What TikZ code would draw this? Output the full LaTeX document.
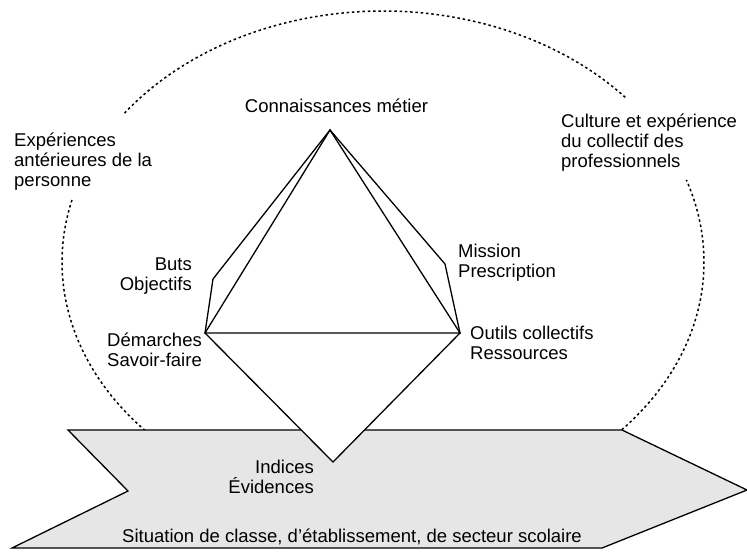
\documentclass[tikz,border=0pt]{standalone}
\usepackage{fontspec}
\setmainfont{Liberation Sans}
\definecolor{bandgray}{RGB}{230,230,230}
\tikzset{
  lbl/.style={inner sep=0pt, font=\fontsize{18.5}{20}\selectfont},
  contour/.style={draw=black, line width=1.3pt, line join=miter},
  dotline/.style={draw=black, line width=1.5pt, dash pattern=on 2.5pt off 2.8pt},
}
\begin{document}
\begin{tikzpicture}[x=1pt,y=-1pt]
\useasboundingbox (0,0) rectangle (747,552);
% dotted ellipse (three arcs, broken at the side texts)
\draw[dotline] plot[domain=41:144.1, samples=120, smooth] ({383+321*cos(\x)},{262-251*sin(\x)});
\draw[dotline] plot[domain=165.7:223, samples=60, smooth] ({383+321*cos(\x)},{262-251*sin(\x)});
\draw[dotline] plot[domain=-43:19.1, samples=60, smooth] ({383+321*cos(\x)},{262-251*sin(\x)});
% band
\coordinate (b1) at (68,430);
\coordinate (b2) at (622,430);
\coordinate (b3) at (747,490);
\coordinate (b4) at (602,548);
\coordinate (b5) at (12,548);
\coordinate (b6) at (128,491);
\filldraw[contour, fill=bandgray] (b1) -- (b2) -- (b3) -- (b4) -- (b5) -- (b6) -- cycle;
% diamond
\coordinate (T) at (330,130);
\coordinate (D) at (205,333);
\coordinate (O) at (460,333);
\coordinate (B) at (333,462);
\coordinate (Bk) at (213,279);
\coordinate (Mk) at (445,264);
\filldraw[contour, fill=white] (T) -- (Mk) -- (O) -- (B) -- (D) -- (Bk) -- cycle;
\draw[contour] (T) -- (D) -- (O) -- cycle;
% labels (base anchor = baseline of the last line)
\node[lbl, anchor=base] (conn) at (336.5,112) {Connaissances métier};
\node[lbl, align=left, anchor=base west] (exp) at (14,186) {Expériences\\antérieures de la\\personne};
\node[lbl, align=left, anchor=base west] (cult) at (561,167) {Culture et expérience\\du collectif des\\professionnels};
\node[lbl, align=right, anchor=base east] (buts) at (192,290) {Buts\\Objectifs};
\node[lbl, align=left, anchor=base west] (miss) at (458,277) {Mission\\Prescription};
\node[lbl, align=right, anchor=base east] (dem) at (202,366) {Démarches\\Savoir-faire};
\node[lbl, align=left, anchor=base west] (outl) at (470,359) {Outils collectifs\\Ressources};
\node[lbl, align=right, anchor=base east] (ind) at (314,493) {Indices\\Évidences};
\node[lbl, anchor=base west] (sit) at (122,542) {Situation de classe, d’établissement, de secteur scolaire};
\end{tikzpicture}
\end{document}
